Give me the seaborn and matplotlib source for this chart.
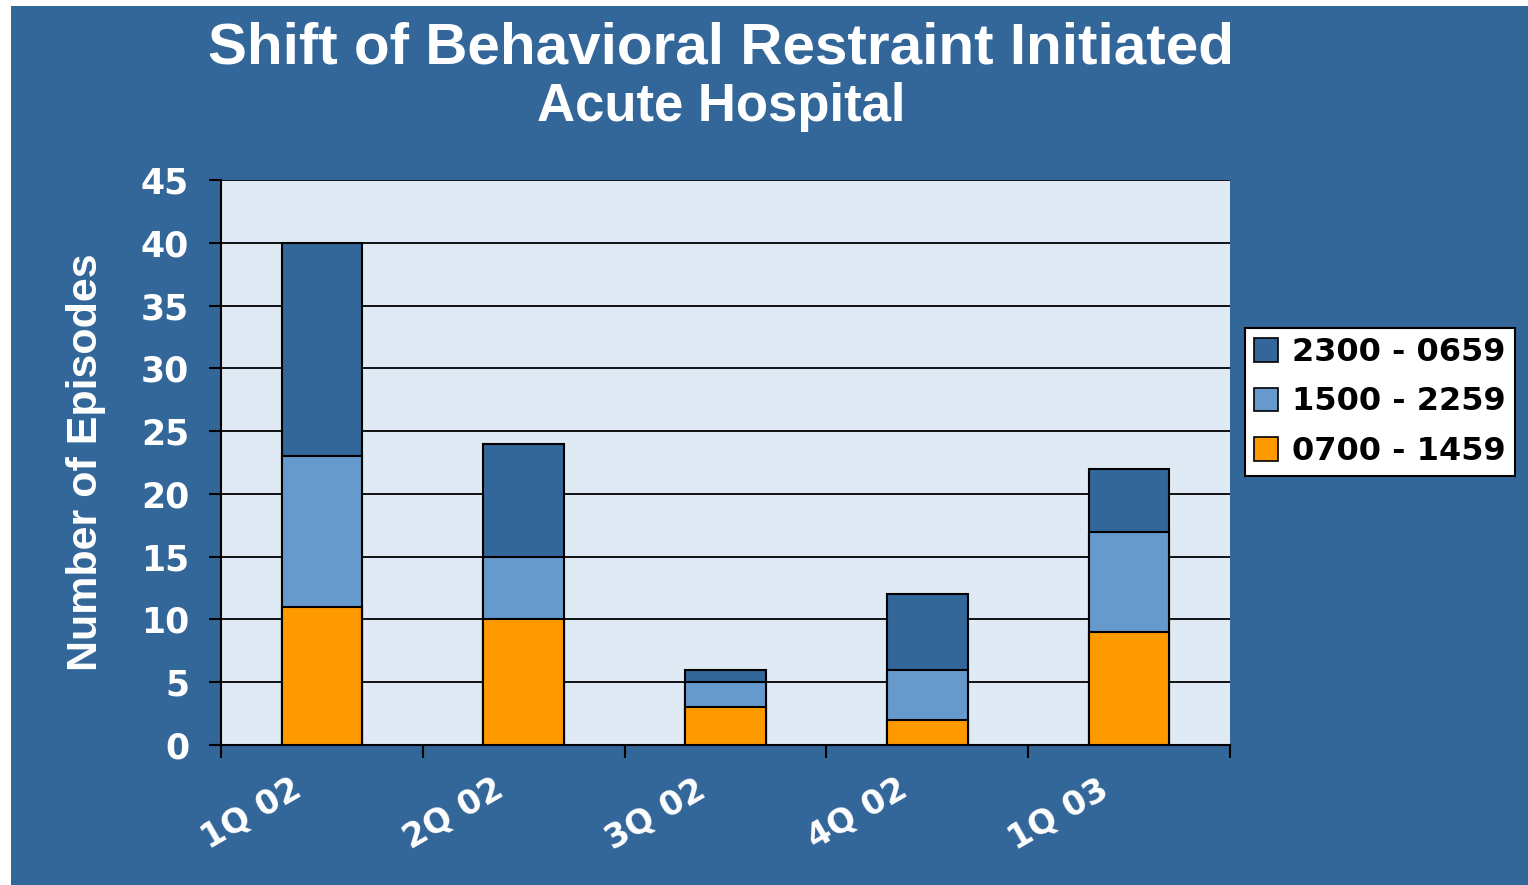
import numpy as np
import pandas as pd
import matplotlib
matplotlib.use("Agg")
import matplotlib.pyplot as plt
import matplotlib.patches as mpatches
from matplotlib.transforms import ScaledTranslation
import seaborn as sns

quarters = ["1Q 02", "2Q 02", "3Q 02", "4Q 02", "1Q 03"]
day_shift = [11, 10, 3, 2, 9]        # 0700 - 1459
evening_shift = [12, 5, 2, 4, 8]     # 1500 - 2259
night_shift = [17, 9, 1, 6, 5]       # 2300 - 0659
shift_labels = ["2300 - 0659", "1500 - 2259", "0700 - 1459"]

DARK = "#336699"
LIGHT = "#6699CC"
ORANGE = "#FF9900"
PLOT_BG = "#E0EAF4"
WIDE = ["DejaVu Sans"]
NARROW = ["Liberation Sans", "DejaVu Sans"]

df = pd.DataFrame({
    "quarter": quarters,
    "day": day_shift,
    "evening": evening_shift,
    "night": night_shift,
})
df["lvl1"] = df["day"]
df["lvl2"] = df["day"] + df["evening"]
df["lvl3"] = df["lvl2"] + df["night"]

sns.set_theme(style="white")
plt.rcParams["font.family"] = WIDE
plt.rcParams["font.weight"] = "bold"

fig = plt.figure(figsize=(15.28, 8.85), dpi=100, facecolor="white")
# blue panel (small white margin on top and left like the original)
fig.patches.append(mpatches.Rectangle((11 / 1528, 0), 1, 1 - 6 / 885,
                                      transform=fig.transFigure,
                                      facecolor=DARK, edgecolor="none", zorder=-10))

ax = fig.add_axes([221 / 1528, (885 - 745) / 885, (1230 - 221) / 1528, (745 - 180) / 885])
ax.set_facecolor(PLOT_BG)

# stacked look: draw cumulative totals from the top level down
for col, color in [("lvl3", DARK), ("lvl2", LIGHT), ("lvl1", ORANGE)]:
    sns.barplot(data=df, x="quarter", y=col, color=color, width=0.4,
                edgecolor="black", linewidth=1.5, saturation=1, ax=ax, zorder=3)

ax.set_ylim(0, 45)
ax.set_xlim(-0.5, 4.5)
ax.set_yticks(np.arange(0, 46, 5))
ax.yaxis.grid(True, color="black", linewidth=1.3)
ax.set_axisbelow(True)

ax.set_xticks(range(len(quarters)))
ax.set_xticklabels(quarters, rotation=30, ha="right", va="center", rotation_mode="anchor")
ax.set_xticks(np.arange(-0.5, 5, 1), minor=True)
ax.tick_params(axis="x", which="major", bottom=True, length=0, pad=30,
               labelsize=24, labelcolor="white")
ax.tick_params(axis="x", which="minor", bottom=True, length=9, width=1.5,
               color="black", direction="out")
ax.tick_params(axis="y", left=True, length=9, width=1.5, color="black", direction="out",
               pad=14, labelsize=25, labelcolor="white")

shift_left = ScaledTranslation(-23 / 100, 0, fig.dpi_scale_trans)
for lab in ax.get_xticklabels():
    lab.set_transform(lab.get_transform() + shift_left)

for side in ["top", "right"]:
    ax.spines[side].set_visible(False)
ax.spines["left"].set_color("black")
ax.spines["left"].set_linewidth(1.5)
ax.spines["bottom"].set_color("black")
ax.spines["bottom"].set_linewidth(1.5)

ax.set_xlabel("")
ax.set_ylabel("Number of Episodes", fontsize=31, color="white", fontweight="bold",
              family=NARROW)
ax.yaxis.set_label_coords(-0.114, 0.5)

fig.text(721 / 1528, 1 - 48 / 885, "Shift of Behavioral Restraint Initiated",
         ha="center", va="center", fontsize=42, color="white", fontweight="bold",
         family=NARROW)
fig.text(721 / 1528, 1 - 107 / 885, "Acute Hospital",
         ha="center", va="center", fontsize=38, color="white", fontweight="bold",
         family=NARROW)

handles = [mpatches.Patch(facecolor=c, edgecolor="black", linewidth=1.2)
           for c in [DARK, LIGHT, ORANGE]]
leg = fig.legend(handles, shift_labels, loc="center", bbox_to_anchor=(1380 / 1528, 1 - 402 / 885),
                 fontsize=23, frameon=True, fancybox=False, framealpha=1, facecolor="white",
                 handlelength=0.75, handleheight=0.75, handletextpad=0.45, labelspacing=0.58,
                 borderpad=0.28, borderaxespad=0, edgecolor="black")
leg.get_frame().set_linewidth(1.5)
for t in leg.get_texts():
    t.set_fontweight("bold")
    t.set_color("black")

fig.savefig("out.png", dpi=100, facecolor=fig.get_facecolor())
